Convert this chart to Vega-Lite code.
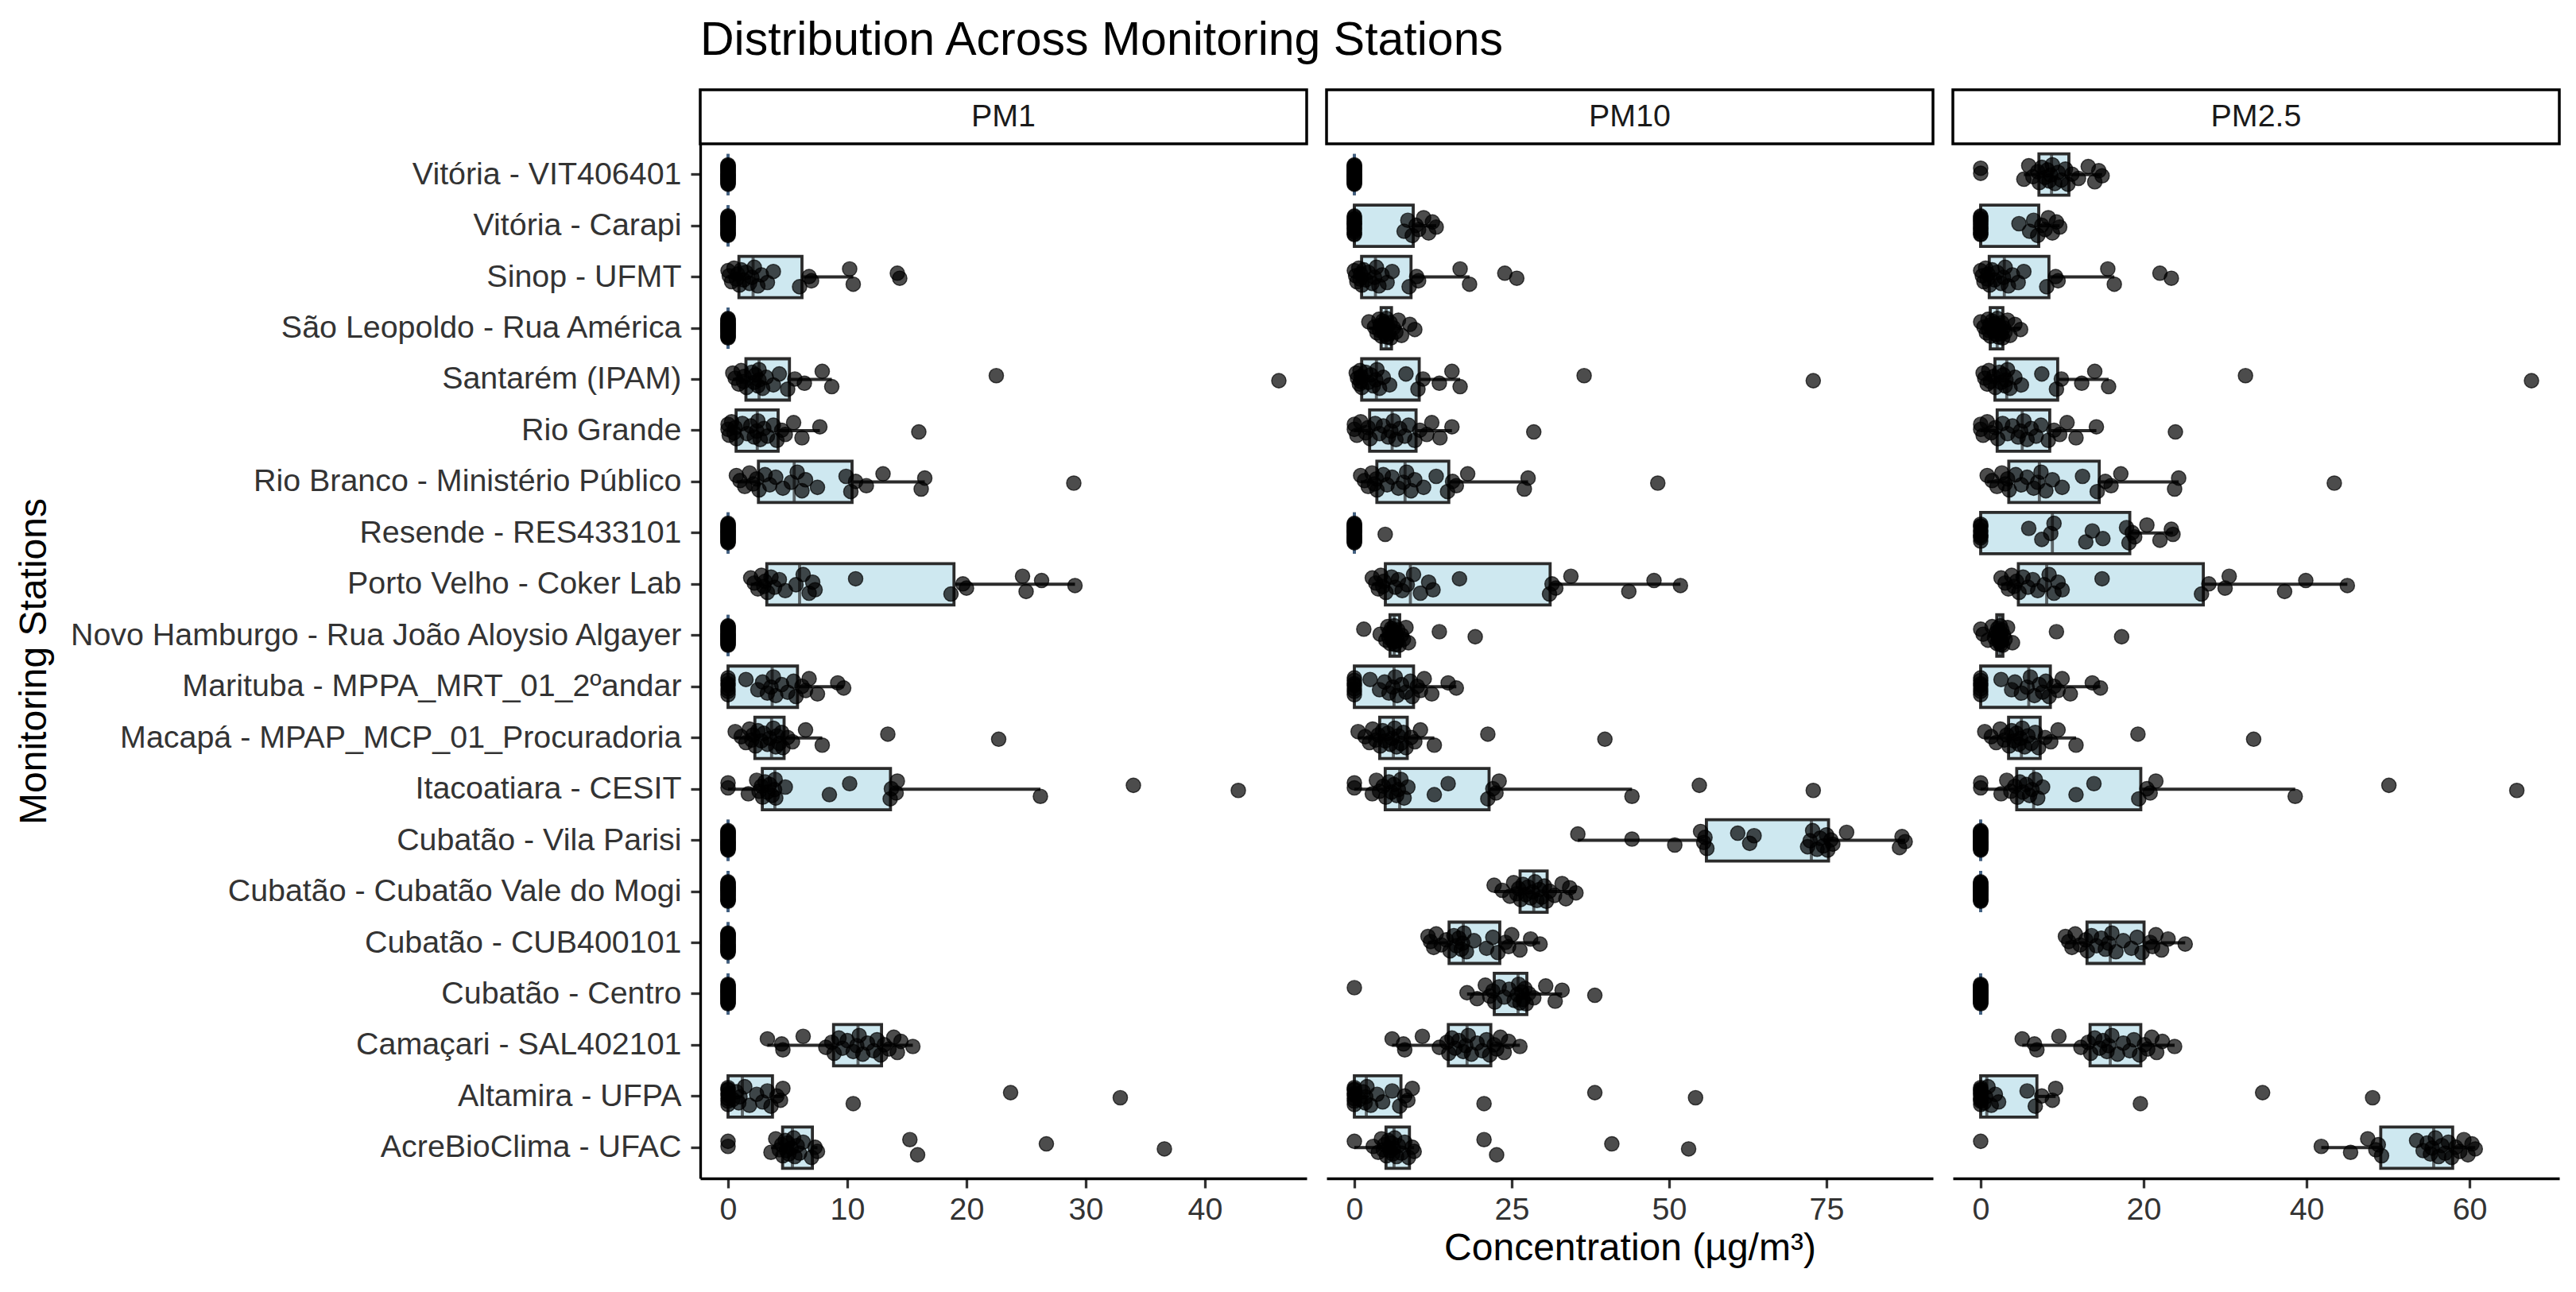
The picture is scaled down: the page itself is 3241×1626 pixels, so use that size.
{
  "$schema": "https://vega.github.io/schema/vega-lite/v6.json",
  "background": "white",
  "padding": {"left": 19, "top": 22, "right": 20, "bottom": 10},
  "title": {"text": "Distribution Across Monitoring Stations", "anchor": "start", "frame": "group", "fontSize": 59, "fontWeight": "normal", "font": "Liberation Sans", "color": "black", "baseline": "alphabetic", "offset": -17},
  "config": {
    "font": "Liberation Sans",
    "view": {"stroke": null},
    "boxplot": {"rule": {"stroke": "#2b2b2b", "strokeWidth": 4}},
    "axis": {"grid": false, "domainColor": "black", "domainWidth": 3.3, "tickColor": "#333333", "tickWidth": 3.3, "tickSize": 12, "labelFont": "Liberation Sans", "labelFontSize": 39.4, "labelColor": "#333333", "labelFlush": false, "labelLimit": 2000, "titleFont": "Liberation Sans", "titleFontSize": 48, "titleFontWeight": "normal", "titleColor": "black", "maxExtent": 1000},
    "axisX": {"labelPadding": 8, "titlePadding": 6},
    "axisY": {"labelPadding": 12, "titlePadding": 17}
  },
  "data": {"values": [
    {"station":"Vitória - VIT406401","obs":1,"PM1":0,"PM10":0,"PM25":0},
    {"station":"Vitória - VIT406401","obs":2,"PM1":0,"PM10":0,"PM25":0},
    {"station":"Vitória - VIT406401","obs":3,"PM1":0,"PM10":0,"PM25":5.3},
    {"station":"Vitória - VIT406401","obs":4,"PM1":0,"PM10":0,"PM25":5.9},
    {"station":"Vitória - VIT406401","obs":5,"PM1":0,"PM10":0,"PM25":6.4},
    {"station":"Vitória - VIT406401","obs":6,"PM1":0,"PM10":0,"PM25":7.0},
    {"station":"Vitória - VIT406401","obs":7,"PM1":0,"PM10":0,"PM25":7.2},
    {"station":"Vitória - VIT406401","obs":8,"PM1":0,"PM10":0,"PM25":7.5},
    {"station":"Vitória - VIT406401","obs":9,"PM1":0,"PM10":0,"PM25":7.9},
    {"station":"Vitória - VIT406401","obs":10,"PM1":0,"PM10":0,"PM25":8.2},
    {"station":"Vitória - VIT406401","obs":11,"PM1":0,"PM10":0,"PM25":8.4},
    {"station":"Vitória - VIT406401","obs":12,"PM1":0,"PM10":0,"PM25":8.6},
    {"station":"Vitória - VIT406401","obs":13,"PM1":0,"PM10":0,"PM25":8.8},
    {"station":"Vitória - VIT406401","obs":14,"PM1":0,"PM10":0,"PM25":9.1},
    {"station":"Vitória - VIT406401","obs":15,"PM1":0,"PM10":0,"PM25":9.5},
    {"station":"Vitória - VIT406401","obs":16,"PM1":0,"PM10":0,"PM25":9.9},
    {"station":"Vitória - VIT406401","obs":17,"PM1":0,"PM10":0,"PM25":10.4},
    {"station":"Vitória - VIT406401","obs":18,"PM1":0,"PM10":0,"PM25":10.7},
    {"station":"Vitória - VIT406401","obs":19,"PM1":0,"PM10":0,"PM25":11.2},
    {"station":"Vitória - VIT406401","obs":20,"PM1":0,"PM10":0,"PM25":12.0},
    {"station":"Vitória - VIT406401","obs":21,"PM1":0,"PM10":0,"PM25":13.2},
    {"station":"Vitória - VIT406401","obs":22,"PM1":0,"PM10":0,"PM25":14.0},
    {"station":"Vitória - VIT406401","obs":23,"PM1":0,"PM10":0,"PM25":14.5},
    {"station":"Vitória - VIT406401","obs":24,"PM1":0,"PM10":0,"PM25":14.9},
    {"station":"Vitória - Carapi","obs":1,"PM1":0,"PM10":0,"PM25":0},
    {"station":"Vitória - Carapi","obs":2,"PM1":0,"PM10":0,"PM25":0},
    {"station":"Vitória - Carapi","obs":3,"PM1":0,"PM10":0,"PM25":0},
    {"station":"Vitória - Carapi","obs":4,"PM1":0,"PM10":0,"PM25":0},
    {"station":"Vitória - Carapi","obs":5,"PM1":0,"PM10":0,"PM25":0},
    {"station":"Vitória - Carapi","obs":6,"PM1":0,"PM10":0,"PM25":0},
    {"station":"Vitória - Carapi","obs":7,"PM1":0,"PM10":0,"PM25":0},
    {"station":"Vitória - Carapi","obs":8,"PM1":0,"PM10":0,"PM25":0},
    {"station":"Vitória - Carapi","obs":9,"PM1":0,"PM10":0,"PM25":0},
    {"station":"Vitória - Carapi","obs":10,"PM1":0,"PM10":0,"PM25":0},
    {"station":"Vitória - Carapi","obs":11,"PM1":0,"PM10":0,"PM25":0},
    {"station":"Vitória - Carapi","obs":12,"PM1":0,"PM10":0,"PM25":0},
    {"station":"Vitória - Carapi","obs":13,"PM1":0,"PM10":0,"PM25":0},
    {"station":"Vitória - Carapi","obs":14,"PM1":0,"PM10":0,"PM25":0},
    {"station":"Vitória - Carapi","obs":15,"PM1":0,"PM10":0,"PM25":4.7},
    {"station":"Vitória - Carapi","obs":16,"PM1":0,"PM10":7.9,"PM25":6.0},
    {"station":"Vitória - Carapi","obs":17,"PM1":0,"PM10":8.5,"PM25":6.5},
    {"station":"Vitória - Carapi","obs":18,"PM1":0,"PM10":9.2,"PM25":7.0},
    {"station":"Vitória - Carapi","obs":19,"PM1":0,"PM10":9.8,"PM25":7.5},
    {"station":"Vitória - Carapi","obs":20,"PM1":0,"PM10":10.2,"PM25":7.9},
    {"station":"Vitória - Carapi","obs":21,"PM1":0,"PM10":11.0,"PM25":8.3},
    {"station":"Vitória - Carapi","obs":22,"PM1":0,"PM10":11.8,"PM25":8.8},
    {"station":"Vitória - Carapi","obs":23,"PM1":0,"PM10":12.4,"PM25":9.3},
    {"station":"Vitória - Carapi","obs":24,"PM1":0,"PM10":13.0,"PM25":9.7},
    {"station":"Sinop - UFMT","obs":1,"PM1":0,"PM10":0,"PM25":0},
    {"station":"Sinop - UFMT","obs":2,"PM1":0.1,"PM10":0.2,"PM25":0.2},
    {"station":"Sinop - UFMT","obs":3,"PM1":0.3,"PM10":0.4,"PM25":0.4},
    {"station":"Sinop - UFMT","obs":4,"PM1":0.5,"PM10":0.7,"PM25":0.6},
    {"station":"Sinop - UFMT","obs":5,"PM1":0.7,"PM10":0.9,"PM25":0.8},
    {"station":"Sinop - UFMT","obs":6,"PM1":0.8,"PM10":1.0,"PM25":0.9},
    {"station":"Sinop - UFMT","obs":7,"PM1":0.95,"PM10":1.2,"PM25":1.1},
    {"station":"Sinop - UFMT","obs":8,"PM1":1.1,"PM10":1.5,"PM25":1.4},
    {"station":"Sinop - UFMT","obs":9,"PM1":1.3,"PM10":1.8,"PM25":1.7},
    {"station":"Sinop - UFMT","obs":10,"PM1":1.5,"PM10":2.2,"PM25":2.0},
    {"station":"Sinop - UFMT","obs":11,"PM1":1.8,"PM10":2.8,"PM25":2.5},
    {"station":"Sinop - UFMT","obs":12,"PM1":2.0,"PM10":3.2,"PM25":2.8},
    {"station":"Sinop - UFMT","obs":13,"PM1":2.2,"PM10":3.5,"PM25":3.0},
    {"station":"Sinop - UFMT","obs":14,"PM1":2.5,"PM10":3.9,"PM25":3.4},
    {"station":"Sinop - UFMT","obs":15,"PM1":2.8,"PM10":4.4,"PM25":3.9},
    {"station":"Sinop - UFMT","obs":16,"PM1":3.3,"PM10":5.2,"PM25":4.6},
    {"station":"Sinop - UFMT","obs":17,"PM1":3.8,"PM10":6.0,"PM25":5.3},
    {"station":"Sinop - UFMT","obs":18,"PM1":6.0,"PM10":8.7,"PM25":8.1},
    {"station":"Sinop - UFMT","obs":19,"PM1":6.8,"PM10":9.9,"PM25":9.2},
    {"station":"Sinop - UFMT","obs":20,"PM1":7.0,"PM10":10.2,"PM25":9.5},
    {"station":"Sinop - UFMT","obs":21,"PM1":10.2,"PM10":16.8,"PM25":15.6},
    {"station":"Sinop - UFMT","obs":22,"PM1":10.5,"PM10":18.3,"PM25":16.4},
    {"station":"Sinop - UFMT","obs":23,"PM1":14.2,"PM10":23.9,"PM25":22.0},
    {"station":"Sinop - UFMT","obs":24,"PM1":14.4,"PM10":25.8,"PM25":23.4},
    {"station":"São Leopoldo - Rua América","obs":1,"PM1":0,"PM10":2.3,"PM25":0},
    {"station":"São Leopoldo - Rua América","obs":2,"PM1":0,"PM10":3.2,"PM25":0.4},
    {"station":"São Leopoldo - Rua América","obs":3,"PM1":0,"PM10":3.6,"PM25":0.7},
    {"station":"São Leopoldo - Rua América","obs":4,"PM1":0,"PM10":3.9,"PM25":0.9},
    {"station":"São Leopoldo - Rua América","obs":5,"PM1":0,"PM10":4.0,"PM25":1.0},
    {"station":"São Leopoldo - Rua América","obs":6,"PM1":0,"PM10":4.1,"PM25":1.1},
    {"station":"São Leopoldo - Rua América","obs":7,"PM1":0,"PM10":4.3,"PM25":1.2},
    {"station":"São Leopoldo - Rua América","obs":8,"PM1":0,"PM10":4.5,"PM25":1.4},
    {"station":"São Leopoldo - Rua América","obs":9,"PM1":0,"PM10":4.6,"PM25":1.6},
    {"station":"São Leopoldo - Rua América","obs":10,"PM1":0,"PM10":4.8,"PM25":1.8},
    {"station":"São Leopoldo - Rua América","obs":11,"PM1":0,"PM10":4.9,"PM25":1.9},
    {"station":"São Leopoldo - Rua América","obs":12,"PM1":0,"PM10":5.0,"PM25":2.0},
    {"station":"São Leopoldo - Rua América","obs":13,"PM1":0,"PM10":5.1,"PM25":2.05},
    {"station":"São Leopoldo - Rua América","obs":14,"PM1":0,"PM10":5.2,"PM25":2.2},
    {"station":"São Leopoldo - Rua América","obs":15,"PM1":0,"PM10":5.3,"PM25":2.3},
    {"station":"São Leopoldo - Rua América","obs":16,"PM1":0,"PM10":5.5,"PM25":2.5},
    {"station":"São Leopoldo - Rua América","obs":17,"PM1":0,"PM10":5.7,"PM25":2.6},
    {"station":"São Leopoldo - Rua América","obs":18,"PM1":0,"PM10":5.8,"PM25":2.7},
    {"station":"São Leopoldo - Rua América","obs":19,"PM1":0,"PM10":6.2,"PM25":2.8},
    {"station":"São Leopoldo - Rua América","obs":20,"PM1":0,"PM10":6.6,"PM25":3.0},
    {"station":"São Leopoldo - Rua América","obs":21,"PM1":0,"PM10":7.0,"PM25":3.3},
    {"station":"São Leopoldo - Rua América","obs":22,"PM1":0,"PM10":7.5,"PM25":3.6},
    {"station":"São Leopoldo - Rua América","obs":23,"PM1":0,"PM10":8.8,"PM25":4.2},
    {"station":"São Leopoldo - Rua América","obs":24,"PM1":0,"PM10":9.6,"PM25":4.9},
    {"station":"Santarém (IPAM)","obs":1,"PM1":0.4,"PM10":0.3,"PM25":0.3},
    {"station":"Santarém (IPAM)","obs":2,"PM1":0.6,"PM10":0.5,"PM25":0.5},
    {"station":"Santarém (IPAM)","obs":3,"PM1":0.9,"PM10":0.8,"PM25":0.8},
    {"station":"Santarém (IPAM)","obs":4,"PM1":1.1,"PM10":0.9,"PM25":1.0},
    {"station":"Santarém (IPAM)","obs":5,"PM1":1.3,"PM10":1.0,"PM25":1.2},
    {"station":"Santarém (IPAM)","obs":6,"PM1":1.35,"PM10":1.05,"PM25":1.6},
    {"station":"Santarém (IPAM)","obs":7,"PM1":1.55,"PM10":1.2,"PM25":1.8},
    {"station":"Santarém (IPAM)","obs":8,"PM1":2.0,"PM10":1.8,"PM25":2.3},
    {"station":"Santarém (IPAM)","obs":9,"PM1":2.2,"PM10":2.2,"PM25":2.5},
    {"station":"Santarém (IPAM)","obs":10,"PM1":2.3,"PM10":2.6,"PM25":2.8},
    {"station":"Santarém (IPAM)","obs":11,"PM1":2.5,"PM10":3.0,"PM25":3.0},
    {"station":"Santarém (IPAM)","obs":12,"PM1":2.6,"PM10":3.4,"PM25":3.1},
    {"station":"Santarém (IPAM)","obs":13,"PM1":2.6,"PM10":3.6,"PM25":3.3},
    {"station":"Santarém (IPAM)","obs":14,"PM1":2.9,"PM10":4.0,"PM25":3.6},
    {"station":"Santarém (IPAM)","obs":15,"PM1":3.2,"PM10":4.6,"PM25":4.2},
    {"station":"Santarém (IPAM)","obs":16,"PM1":3.8,"PM10":5.6,"PM25":5.0},
    {"station":"Santarém (IPAM)","obs":17,"PM1":4.3,"PM10":8.2,"PM25":7.5},
    {"station":"Santarém (IPAM)","obs":18,"PM1":5.0,"PM10":10.1,"PM25":9.3},
    {"station":"Santarém (IPAM)","obs":19,"PM1":5.6,"PM10":10.9,"PM25":9.9},
    {"station":"Santarém (IPAM)","obs":20,"PM1":6.4,"PM10":13.5,"PM25":12.4},
    {"station":"Santarém (IPAM)","obs":21,"PM1":7.9,"PM10":15.5,"PM25":14.0},
    {"station":"Santarém (IPAM)","obs":22,"PM1":8.7,"PM10":16.8,"PM25":15.7},
    {"station":"Santarém (IPAM)","obs":23,"PM1":22.5,"PM10":36.5,"PM25":32.5},
    {"station":"Santarém (IPAM)","obs":24,"PM1":46.2,"PM10":72.9,"PM25":67.6},
    {"station":"Rio Grande","obs":1,"PM1":0,"PM10":0,"PM25":0},
    {"station":"Rio Grande","obs":2,"PM1":0,"PM10":0,"PM25":0},
    {"station":"Rio Grande","obs":3,"PM1":0.1,"PM10":0.4,"PM25":0.3},
    {"station":"Rio Grande","obs":4,"PM1":0.3,"PM10":1.0,"PM25":0.8},
    {"station":"Rio Grande","obs":5,"PM1":0.5,"PM10":1.8,"PM25":1.3},
    {"station":"Rio Grande","obs":6,"PM1":0.6,"PM10":2.2,"PM25":1.8},
    {"station":"Rio Grande","obs":7,"PM1":0.7,"PM10":2.5,"PM25":2.1},
    {"station":"Rio Grande","obs":8,"PM1":1.2,"PM10":3.3,"PM25":2.7},
    {"station":"Rio Grande","obs":9,"PM1":1.6,"PM10":4.0,"PM25":3.3},
    {"station":"Rio Grande","obs":10,"PM1":1.9,"PM10":4.6,"PM25":3.9},
    {"station":"Rio Grande","obs":11,"PM1":2.2,"PM10":5.4,"PM25":4.6},
    {"station":"Rio Grande","obs":12,"PM1":2.4,"PM10":5.8,"PM25":4.9},
    {"station":"Rio Grande","obs":13,"PM1":2.5,"PM10":6.2,"PM25":5.3},
    {"station":"Rio Grande","obs":14,"PM1":2.7,"PM10":6.6,"PM25":5.7},
    {"station":"Rio Grande","obs":15,"PM1":3.0,"PM10":7.2,"PM25":6.2},
    {"station":"Rio Grande","obs":16,"PM1":3.3,"PM10":8.0,"PM25":6.8},
    {"station":"Rio Grande","obs":17,"PM1":3.8,"PM10":8.6,"PM25":7.4},
    {"station":"Rio Grande","obs":18,"PM1":4.1,"PM10":9.6,"PM25":8.3},
    {"station":"Rio Grande","obs":19,"PM1":4.5,"PM10":10.4,"PM25":9.0},
    {"station":"Rio Grande","obs":20,"PM1":4.8,"PM10":11.5,"PM25":9.7},
    {"station":"Rio Grande","obs":21,"PM1":5.5,"PM10":12.3,"PM25":10.6},
    {"station":"Rio Grande","obs":22,"PM1":6.2,"PM10":13.6,"PM25":11.7},
    {"station":"Rio Grande","obs":23,"PM1":7.7,"PM10":15.5,"PM25":14.2},
    {"station":"Rio Grande","obs":24,"PM1":16.0,"PM10":28.5,"PM25":23.9},
    {"station":"Rio Branco - Ministério Público","obs":1,"PM1":0.7,"PM10":1.0,"PM25":0.8},
    {"station":"Rio Branco - Ministério Público","obs":2,"PM1":1.0,"PM10":1.6,"PM25":1.4},
    {"station":"Rio Branco - Ministério Público","obs":3,"PM1":1.4,"PM10":2.2,"PM25":2.0},
    {"station":"Rio Branco - Ministério Público","obs":4,"PM1":1.8,"PM10":2.8,"PM25":2.6},
    {"station":"Rio Branco - Ministério Público","obs":5,"PM1":2.1,"PM10":3.2,"PM25":3.0},
    {"station":"Rio Branco - Ministério Público","obs":6,"PM1":2.4,"PM10":3.5,"PM25":3.3},
    {"station":"Rio Branco - Ministério Público","obs":7,"PM1":2.6,"PM10":3.6,"PM25":3.5},
    {"station":"Rio Branco - Ministério Público","obs":8,"PM1":3.1,"PM10":4.6,"PM25":4.3},
    {"station":"Rio Branco - Ministério Público","obs":9,"PM1":3.5,"PM10":5.2,"PM25":5.0},
    {"station":"Rio Branco - Ministério Público","obs":10,"PM1":4.0,"PM10":6.0,"PM25":5.7},
    {"station":"Rio Branco - Ministério Público","obs":11,"PM1":4.6,"PM10":7.0,"PM25":6.5},
    {"station":"Rio Branco - Ministério Público","obs":12,"PM1":5.3,"PM10":7.8,"PM25":7.0},
    {"station":"Rio Branco - Ministério Público","obs":13,"PM1":5.8,"PM10":8.3,"PM25":7.4},
    {"station":"Rio Branco - Ministério Público","obs":14,"PM1":6.2,"PM10":9.0,"PM25":8.0},
    {"station":"Rio Branco - Ministério Público","obs":15,"PM1":6.5,"PM10":9.6,"PM25":8.8},
    {"station":"Rio Branco - Ministério Público","obs":16,"PM1":7.5,"PM10":11.0,"PM25":10.0},
    {"station":"Rio Branco - Ministério Público","obs":17,"PM1":9.9,"PM10":13.0,"PM25":12.5},
    {"station":"Rio Branco - Ministério Público","obs":18,"PM1":10.3,"PM10":14.8,"PM25":14.3},
    {"station":"Rio Branco - Ministério Público","obs":19,"PM1":10.7,"PM10":15.6,"PM25":15.3},
    {"station":"Rio Branco - Ministério Público","obs":20,"PM1":11.6,"PM10":16.2,"PM25":16.0},
    {"station":"Rio Branco - Ministério Público","obs":21,"PM1":13.0,"PM10":18.0,"PM25":17.2},
    {"station":"Rio Branco - Ministério Público","obs":22,"PM1":16.2,"PM10":27.0,"PM25":23.8},
    {"station":"Rio Branco - Ministério Público","obs":23,"PM1":16.5,"PM10":27.6,"PM25":24.3},
    {"station":"Rio Branco - Ministério Público","obs":24,"PM1":29.0,"PM10":48.2,"PM25":43.4},
    {"station":"Resende - RES433101","obs":1,"PM1":0,"PM10":0,"PM25":0},
    {"station":"Resende - RES433101","obs":2,"PM1":0,"PM10":0,"PM25":0},
    {"station":"Resende - RES433101","obs":3,"PM1":0,"PM10":0,"PM25":0},
    {"station":"Resende - RES433101","obs":4,"PM1":0,"PM10":0,"PM25":0},
    {"station":"Resende - RES433101","obs":5,"PM1":0,"PM10":0,"PM25":0},
    {"station":"Resende - RES433101","obs":6,"PM1":0,"PM10":0,"PM25":0},
    {"station":"Resende - RES433101","obs":7,"PM1":0,"PM10":0,"PM25":0},
    {"station":"Resende - RES433101","obs":8,"PM1":0,"PM10":0,"PM25":0},
    {"station":"Resende - RES433101","obs":9,"PM1":0,"PM10":0,"PM25":0},
    {"station":"Resende - RES433101","obs":10,"PM1":0,"PM10":0,"PM25":5.9},
    {"station":"Resende - RES433101","obs":11,"PM1":0,"PM10":0,"PM25":7.5},
    {"station":"Resende - RES433101","obs":12,"PM1":0,"PM10":0,"PM25":8.6},
    {"station":"Resende - RES433101","obs":13,"PM1":0,"PM10":0,"PM25":9.0},
    {"station":"Resende - RES433101","obs":14,"PM1":0,"PM10":0,"PM25":12.9},
    {"station":"Resende - RES433101","obs":15,"PM1":0,"PM10":0,"PM25":13.7},
    {"station":"Resende - RES433101","obs":16,"PM1":0,"PM10":0,"PM25":15.0},
    {"station":"Resende - RES433101","obs":17,"PM1":0,"PM10":0,"PM25":17.9},
    {"station":"Resende - RES433101","obs":18,"PM1":0,"PM10":0,"PM25":18.2},
    {"station":"Resende - RES433101","obs":19,"PM1":0,"PM10":0,"PM25":18.6},
    {"station":"Resende - RES433101","obs":20,"PM1":0,"PM10":0,"PM25":18.9},
    {"station":"Resende - RES433101","obs":21,"PM1":0,"PM10":0,"PM25":20.4},
    {"station":"Resende - RES433101","obs":22,"PM1":0,"PM10":0,"PM25":22.0},
    {"station":"Resende - RES433101","obs":23,"PM1":0,"PM10":0,"PM25":23.4},
    {"station":"Resende - RES433101","obs":24,"PM1":0,"PM10":4.9,"PM25":23.6},
    {"station":"Porto Velho - Coker Lab","obs":1,"PM1":1.9,"PM10":2.85,"PM25":2.5},
    {"station":"Porto Velho - Coker Lab","obs":2,"PM1":2.2,"PM10":3.4,"PM25":3.0},
    {"station":"Porto Velho - Coker Lab","obs":3,"PM1":2.5,"PM10":3.8,"PM25":3.4},
    {"station":"Porto Velho - Coker Lab","obs":4,"PM1":2.8,"PM10":4.2,"PM25":3.8},
    {"station":"Porto Velho - Coker Lab","obs":5,"PM1":3.0,"PM10":4.5,"PM25":4.1},
    {"station":"Porto Velho - Coker Lab","obs":6,"PM1":3.1,"PM10":4.7,"PM25":4.4},
    {"station":"Porto Velho - Coker Lab","obs":7,"PM1":3.3,"PM10":5.0,"PM25":4.7},
    {"station":"Porto Velho - Coker Lab","obs":8,"PM1":3.6,"PM10":5.9,"PM25":5.2},
    {"station":"Porto Velho - Coker Lab","obs":9,"PM1":3.9,"PM10":6.5,"PM25":5.8},
    {"station":"Porto Velho - Coker Lab","obs":10,"PM1":4.3,"PM10":7.0,"PM25":6.4},
    {"station":"Porto Velho - Coker Lab","obs":11,"PM1":4.8,"PM10":7.6,"PM25":7.0},
    {"station":"Porto Velho - Coker Lab","obs":12,"PM1":5.7,"PM10":8.4,"PM25":7.8},
    {"station":"Porto Velho - Coker Lab","obs":13,"PM1":6.3,"PM10":9.4,"PM25":8.4},
    {"station":"Porto Velho - Coker Lab","obs":14,"PM1":6.8,"PM10":10.5,"PM25":9.0},
    {"station":"Porto Velho - Coker Lab","obs":15,"PM1":7.1,"PM10":11.8,"PM25":9.5},
    {"station":"Porto Velho - Coker Lab","obs":16,"PM1":7.3,"PM10":12.5,"PM25":10.0},
    {"station":"Porto Velho - Coker Lab","obs":17,"PM1":10.7,"PM10":16.7,"PM25":14.9},
    {"station":"Porto Velho - Coker Lab","obs":18,"PM1":18.7,"PM10":31.0,"PM25":27.1},
    {"station":"Porto Velho - Coker Lab","obs":19,"PM1":19.7,"PM10":31.4,"PM25":28.0},
    {"station":"Porto Velho - Coker Lab","obs":20,"PM1":20.0,"PM10":32.0,"PM25":30.0},
    {"station":"Porto Velho - Coker Lab","obs":21,"PM1":24.7,"PM10":34.4,"PM25":30.5},
    {"station":"Porto Velho - Coker Lab","obs":22,"PM1":25.0,"PM10":43.6,"PM25":37.3},
    {"station":"Porto Velho - Coker Lab","obs":23,"PM1":26.3,"PM10":47.6,"PM25":39.9},
    {"station":"Porto Velho - Coker Lab","obs":24,"PM1":29.1,"PM10":51.8,"PM25":45.0},
    {"station":"Novo Hamburgo - Rua João Aloysio Algayer","obs":1,"PM1":0,"PM10":1.5,"PM25":0},
    {"station":"Novo Hamburgo - Rua João Aloysio Algayer","obs":2,"PM1":0,"PM10":4.1,"PM25":0.3},
    {"station":"Novo Hamburgo - Rua João Aloysio Algayer","obs":3,"PM1":0,"PM10":5.0,"PM25":0.9},
    {"station":"Novo Hamburgo - Rua João Aloysio Algayer","obs":4,"PM1":0,"PM10":5.3,"PM25":1.4},
    {"station":"Novo Hamburgo - Rua João Aloysio Algayer","obs":5,"PM1":0,"PM10":5.5,"PM25":1.7},
    {"station":"Novo Hamburgo - Rua João Aloysio Algayer","obs":6,"PM1":0,"PM10":5.55,"PM25":1.9},
    {"station":"Novo Hamburgo - Rua João Aloysio Algayer","obs":7,"PM1":0,"PM10":5.7,"PM25":2.0},
    {"station":"Novo Hamburgo - Rua João Aloysio Algayer","obs":8,"PM1":0,"PM10":5.9,"PM25":2.1},
    {"station":"Novo Hamburgo - Rua João Aloysio Algayer","obs":9,"PM1":0,"PM10":6.0,"PM25":2.2},
    {"station":"Novo Hamburgo - Rua João Aloysio Algayer","obs":10,"PM1":0,"PM10":6.1,"PM25":2.25},
    {"station":"Novo Hamburgo - Rua João Aloysio Algayer","obs":11,"PM1":0,"PM10":6.2,"PM25":2.3},
    {"station":"Novo Hamburgo - Rua João Aloysio Algayer","obs":12,"PM1":0,"PM10":6.3,"PM25":2.35},
    {"station":"Novo Hamburgo - Rua João Aloysio Algayer","obs":13,"PM1":0,"PM10":6.35,"PM25":2.4},
    {"station":"Novo Hamburgo - Rua João Aloysio Algayer","obs":14,"PM1":0,"PM10":6.45,"PM25":2.45},
    {"station":"Novo Hamburgo - Rua João Aloysio Algayer","obs":15,"PM1":0,"PM10":6.6,"PM25":2.5},
    {"station":"Novo Hamburgo - Rua João Aloysio Algayer","obs":16,"PM1":0,"PM10":6.8,"PM25":2.55},
    {"station":"Novo Hamburgo - Rua João Aloysio Algayer","obs":17,"PM1":0,"PM10":6.9,"PM25":2.6},
    {"station":"Novo Hamburgo - Rua João Aloysio Algayer","obs":18,"PM1":0,"PM10":7.1,"PM25":2.7},
    {"station":"Novo Hamburgo - Rua João Aloysio Algayer","obs":19,"PM1":0,"PM10":7.5,"PM25":2.8},
    {"station":"Novo Hamburgo - Rua João Aloysio Algayer","obs":20,"PM1":0,"PM10":7.8,"PM25":3.0},
    {"station":"Novo Hamburgo - Rua João Aloysio Algayer","obs":21,"PM1":0,"PM10":8.2,"PM25":3.3},
    {"station":"Novo Hamburgo - Rua João Aloysio Algayer","obs":22,"PM1":0,"PM10":8.6,"PM25":3.9},
    {"station":"Novo Hamburgo - Rua João Aloysio Algayer","obs":23,"PM1":0,"PM10":13.5,"PM25":9.3},
    {"station":"Novo Hamburgo - Rua João Aloysio Algayer","obs":24,"PM1":0,"PM10":19.2,"PM25":17.3},
    {"station":"Marituba - MPPA_MRT_01_2ºandar","obs":1,"PM1":0,"PM10":0,"PM25":0},
    {"station":"Marituba - MPPA_MRT_01_2ºandar","obs":2,"PM1":0,"PM10":0,"PM25":0},
    {"station":"Marituba - MPPA_MRT_01_2ºandar","obs":3,"PM1":0,"PM10":0,"PM25":0},
    {"station":"Marituba - MPPA_MRT_01_2ºandar","obs":4,"PM1":0,"PM10":0,"PM25":0},
    {"station":"Marituba - MPPA_MRT_01_2ºandar","obs":5,"PM1":0,"PM10":0,"PM25":0},
    {"station":"Marituba - MPPA_MRT_01_2ºandar","obs":6,"PM1":0,"PM10":0,"PM25":0},
    {"station":"Marituba - MPPA_MRT_01_2ºandar","obs":7,"PM1":0,"PM10":0,"PM25":0},
    {"station":"Marituba - MPPA_MRT_01_2ºandar","obs":8,"PM1":1.5,"PM10":2.5,"PM25":2.5},
    {"station":"Marituba - MPPA_MRT_01_2ºandar","obs":9,"PM1":2.5,"PM10":4.0,"PM25":3.8},
    {"station":"Marituba - MPPA_MRT_01_2ºandar","obs":10,"PM1":2.9,"PM10":4.8,"PM25":4.2},
    {"station":"Marituba - MPPA_MRT_01_2ºandar","obs":11,"PM1":3.3,"PM10":5.5,"PM25":5.0},
    {"station":"Marituba - MPPA_MRT_01_2ºandar","obs":12,"PM1":3.6,"PM10":6.1,"PM25":5.7},
    {"station":"Marituba - MPPA_MRT_01_2ºandar","obs":13,"PM1":3.8,"PM10":6.5,"PM25":6.1},
    {"station":"Marituba - MPPA_MRT_01_2ºandar","obs":14,"PM1":4.0,"PM10":6.8,"PM25":6.6},
    {"station":"Marituba - MPPA_MRT_01_2ºandar","obs":15,"PM1":4.5,"PM10":7.5,"PM25":7.2},
    {"station":"Marituba - MPPA_MRT_01_2ºandar","obs":16,"PM1":5.0,"PM10":8.2,"PM25":7.6},
    {"station":"Marituba - MPPA_MRT_01_2ºandar","obs":17,"PM1":5.5,"PM10":8.9,"PM25":8.0},
    {"station":"Marituba - MPPA_MRT_01_2ºandar","obs":18,"PM1":5.7,"PM10":9.2,"PM25":8.4},
    {"station":"Marituba - MPPA_MRT_01_2ºandar","obs":19,"PM1":6.2,"PM10":10.0,"PM25":9.0},
    {"station":"Marituba - MPPA_MRT_01_2ºandar","obs":20,"PM1":6.5,"PM10":10.5,"PM25":9.5},
    {"station":"Marituba - MPPA_MRT_01_2ºandar","obs":21,"PM1":6.8,"PM10":11.1,"PM25":10.0},
    {"station":"Marituba - MPPA_MRT_01_2ºandar","obs":22,"PM1":7.5,"PM10":12.3,"PM25":11.0},
    {"station":"Marituba - MPPA_MRT_01_2ºandar","obs":23,"PM1":9.2,"PM10":14.9,"PM25":13.7},
    {"station":"Marituba - MPPA_MRT_01_2ºandar","obs":24,"PM1":9.7,"PM10":16.2,"PM25":14.7},
    {"station":"Macapá - MPAP_MCP_01_Procuradoria","obs":1,"PM1":0.6,"PM10":0.6,"PM25":0.5},
    {"station":"Macapá - MPAP_MCP_01_Procuradoria","obs":2,"PM1":1.1,"PM10":1.7,"PM25":1.3},
    {"station":"Macapá - MPAP_MCP_01_Procuradoria","obs":3,"PM1":1.5,"PM10":2.4,"PM25":1.9},
    {"station":"Macapá - MPAP_MCP_01_Procuradoria","obs":4,"PM1":1.8,"PM10":2.9,"PM25":2.4},
    {"station":"Macapá - MPAP_MCP_01_Procuradoria","obs":5,"PM1":2.0,"PM10":3.4,"PM25":2.9},
    {"station":"Macapá - MPAP_MCP_01_Procuradoria","obs":6,"PM1":2.1,"PM10":3.8,"PM25":3.2},
    {"station":"Macapá - MPAP_MCP_01_Procuradoria","obs":7,"PM1":2.3,"PM10":4.1,"PM25":3.5},
    {"station":"Macapá - MPAP_MCP_01_Procuradoria","obs":8,"PM1":2.5,"PM10":4.5,"PM25":3.8},
    {"station":"Macapá - MPAP_MCP_01_Procuradoria","obs":9,"PM1":2.8,"PM10":4.9,"PM25":4.1},
    {"station":"Macapá - MPAP_MCP_01_Procuradoria","obs":10,"PM1":3.0,"PM10":5.3,"PM25":4.4},
    {"station":"Macapá - MPAP_MCP_01_Procuradoria","obs":11,"PM1":3.3,"PM10":5.7,"PM25":4.7},
    {"station":"Macapá - MPAP_MCP_01_Procuradoria","obs":12,"PM1":3.5,"PM10":6.0,"PM25":4.9},
    {"station":"Macapá - MPAP_MCP_01_Procuradoria","obs":13,"PM1":3.8,"PM10":6.4,"PM25":5.1},
    {"station":"Macapá - MPAP_MCP_01_Procuradoria","obs":14,"PM1":4.0,"PM10":6.7,"PM25":5.4},
    {"station":"Macapá - MPAP_MCP_01_Procuradoria","obs":15,"PM1":4.1,"PM10":7.0,"PM25":5.8},
    {"station":"Macapá - MPAP_MCP_01_Procuradoria","obs":16,"PM1":4.3,"PM10":7.4,"PM25":6.2},
    {"station":"Macapá - MPAP_MCP_01_Procuradoria","obs":17,"PM1":4.5,"PM10":7.8,"PM25":6.7},
    {"station":"Macapá - MPAP_MCP_01_Procuradoria","obs":18,"PM1":4.6,"PM10":8.2,"PM25":7.1},
    {"station":"Macapá - MPAP_MCP_01_Procuradoria","obs":19,"PM1":5.0,"PM10":9.0,"PM25":7.9},
    {"station":"Macapá - MPAP_MCP_01_Procuradoria","obs":20,"PM1":5.4,"PM10":9.6,"PM25":8.6},
    {"station":"Macapá - MPAP_MCP_01_Procuradoria","obs":21,"PM1":6.5,"PM10":10.5,"PM25":9.5},
    {"station":"Macapá - MPAP_MCP_01_Procuradoria","obs":22,"PM1":7.9,"PM10":12.7,"PM25":11.7},
    {"station":"Macapá - MPAP_MCP_01_Procuradoria","obs":23,"PM1":13.4,"PM10":21.2,"PM25":19.3},
    {"station":"Macapá - MPAP_MCP_01_Procuradoria","obs":24,"PM1":22.7,"PM10":39.8,"PM25":33.5},
    {"station":"Itacoatiara - CESIT","obs":1,"PM1":0,"PM10":0,"PM25":0},
    {"station":"Itacoatiara - CESIT","obs":2,"PM1":0,"PM10":0,"PM25":0},
    {"station":"Itacoatiara - CESIT","obs":3,"PM1":1.7,"PM10":2.85,"PM25":2.5},
    {"station":"Itacoatiara - CESIT","obs":4,"PM1":2.4,"PM10":3.5,"PM25":3.2},
    {"station":"Itacoatiara - CESIT","obs":5,"PM1":2.6,"PM10":4.0,"PM25":3.7},
    {"station":"Itacoatiara - CESIT","obs":6,"PM1":2.8,"PM10":4.6,"PM25":4.2},
    {"station":"Itacoatiara - CESIT","obs":7,"PM1":2.9,"PM10":5.0,"PM25":4.5},
    {"station":"Itacoatiara - CESIT","obs":8,"PM1":3.1,"PM10":5.5,"PM25":4.8},
    {"station":"Itacoatiara - CESIT","obs":9,"PM1":3.3,"PM10":5.9,"PM25":5.2},
    {"station":"Itacoatiara - CESIT","obs":10,"PM1":3.5,"PM10":6.3,"PM25":5.6},
    {"station":"Itacoatiara - CESIT","obs":11,"PM1":3.7,"PM10":6.7,"PM25":6.0},
    {"station":"Itacoatiara - CESIT","obs":12,"PM1":3.9,"PM10":7.0,"PM25":6.3},
    {"station":"Itacoatiara - CESIT","obs":13,"PM1":3.95,"PM10":7.4,"PM25":6.7},
    {"station":"Itacoatiara - CESIT","obs":14,"PM1":4.0,"PM10":7.9,"PM25":7.0},
    {"station":"Itacoatiara - CESIT","obs":15,"PM1":4.8,"PM10":8.5,"PM25":7.6},
    {"station":"Itacoatiara - CESIT","obs":16,"PM1":8.5,"PM10":12.7,"PM25":11.7},
    {"station":"Itacoatiara - CESIT","obs":17,"PM1":10.2,"PM10":14.9,"PM25":13.9},
    {"station":"Itacoatiara - CESIT","obs":18,"PM1":13.6,"PM10":21.2,"PM25":19.4},
    {"station":"Itacoatiara - CESIT","obs":19,"PM1":13.7,"PM10":22.0,"PM25":20.4},
    {"station":"Itacoatiara - CESIT","obs":20,"PM1":14.1,"PM10":22.5,"PM25":20.8},
    {"station":"Itacoatiara - CESIT","obs":21,"PM1":14.2,"PM10":23.0,"PM25":21.5},
    {"station":"Itacoatiara - CESIT","obs":22,"PM1":26.2,"PM10":44.1,"PM25":38.6},
    {"station":"Itacoatiara - CESIT","obs":23,"PM1":34.0,"PM10":54.8,"PM25":50.1},
    {"station":"Itacoatiara - CESIT","obs":24,"PM1":42.8,"PM10":72.9,"PM25":65.8},
    {"station":"Cubatão - Vila Parisi","obs":1,"PM1":0,"PM10":35.5,"PM25":0},
    {"station":"Cubatão - Vila Parisi","obs":2,"PM1":0,"PM10":44.1,"PM25":0},
    {"station":"Cubatão - Vila Parisi","obs":3,"PM1":0,"PM10":50.9,"PM25":0},
    {"station":"Cubatão - Vila Parisi","obs":4,"PM1":0,"PM10":55.0,"PM25":0},
    {"station":"Cubatão - Vila Parisi","obs":5,"PM1":0,"PM10":55.5,"PM25":0},
    {"station":"Cubatão - Vila Parisi","obs":6,"PM1":0,"PM10":55.7,"PM25":0},
    {"station":"Cubatão - Vila Parisi","obs":7,"PM1":0,"PM10":56.0,"PM25":0},
    {"station":"Cubatão - Vila Parisi","obs":8,"PM1":0,"PM10":60.9,"PM25":0},
    {"station":"Cubatão - Vila Parisi","obs":9,"PM1":0,"PM10":62.8,"PM25":0},
    {"station":"Cubatão - Vila Parisi","obs":10,"PM1":0,"PM10":63.5,"PM25":0},
    {"station":"Cubatão - Vila Parisi","obs":11,"PM1":0,"PM10":72.0,"PM25":0},
    {"station":"Cubatão - Vila Parisi","obs":12,"PM1":0,"PM10":72.4,"PM25":0},
    {"station":"Cubatão - Vila Parisi","obs":13,"PM1":0,"PM10":72.8,"PM25":0},
    {"station":"Cubatão - Vila Parisi","obs":14,"PM1":0,"PM10":73.5,"PM25":0},
    {"station":"Cubatão - Vila Parisi","obs":15,"PM1":0,"PM10":74.0,"PM25":0},
    {"station":"Cubatão - Vila Parisi","obs":16,"PM1":0,"PM10":74.5,"PM25":0},
    {"station":"Cubatão - Vila Parisi","obs":17,"PM1":0,"PM10":75.0,"PM25":0},
    {"station":"Cubatão - Vila Parisi","obs":18,"PM1":0,"PM10":75.2,"PM25":0},
    {"station":"Cubatão - Vila Parisi","obs":19,"PM1":0,"PM10":75.7,"PM25":0},
    {"station":"Cubatão - Vila Parisi","obs":20,"PM1":0,"PM10":76.0,"PM25":0},
    {"station":"Cubatão - Vila Parisi","obs":21,"PM1":0,"PM10":78.2,"PM25":0},
    {"station":"Cubatão - Vila Parisi","obs":22,"PM1":0,"PM10":86.6,"PM25":0},
    {"station":"Cubatão - Vila Parisi","obs":23,"PM1":0,"PM10":87.0,"PM25":0},
    {"station":"Cubatão - Vila Parisi","obs":24,"PM1":0,"PM10":87.5,"PM25":0},
    {"station":"Cubatão - Cubatão Vale do Mogi","obs":1,"PM1":0,"PM10":22.2,"PM25":0},
    {"station":"Cubatão - Cubatão Vale do Mogi","obs":2,"PM1":0,"PM10":23.5,"PM25":0},
    {"station":"Cubatão - Cubatão Vale do Mogi","obs":3,"PM1":0,"PM10":24.7,"PM25":0},
    {"station":"Cubatão - Cubatão Vale do Mogi","obs":4,"PM1":0,"PM10":25.3,"PM25":0},
    {"station":"Cubatão - Cubatão Vale do Mogi","obs":5,"PM1":0,"PM10":25.8,"PM25":0},
    {"station":"Cubatão - Cubatão Vale do Mogi","obs":6,"PM1":0,"PM10":26.1,"PM25":0},
    {"station":"Cubatão - Cubatão Vale do Mogi","obs":7,"PM1":0,"PM10":26.4,"PM25":0},
    {"station":"Cubatão - Cubatão Vale do Mogi","obs":8,"PM1":0,"PM10":26.8,"PM25":0},
    {"station":"Cubatão - Cubatão Vale do Mogi","obs":9,"PM1":0,"PM10":27.2,"PM25":0},
    {"station":"Cubatão - Cubatão Vale do Mogi","obs":10,"PM1":0,"PM10":27.6,"PM25":0},
    {"station":"Cubatão - Cubatão Vale do Mogi","obs":11,"PM1":0,"PM10":28.0,"PM25":0},
    {"station":"Cubatão - Cubatão Vale do Mogi","obs":12,"PM1":0,"PM10":28.3,"PM25":0},
    {"station":"Cubatão - Cubatão Vale do Mogi","obs":13,"PM1":0,"PM10":28.7,"PM25":0},
    {"station":"Cubatão - Cubatão Vale do Mogi","obs":14,"PM1":0,"PM10":29.0,"PM25":0},
    {"station":"Cubatão - Cubatão Vale do Mogi","obs":15,"PM1":0,"PM10":29.4,"PM25":0},
    {"station":"Cubatão - Cubatão Vale do Mogi","obs":16,"PM1":0,"PM10":29.8,"PM25":0},
    {"station":"Cubatão - Cubatão Vale do Mogi","obs":17,"PM1":0,"PM10":30.2,"PM25":0},
    {"station":"Cubatão - Cubatão Vale do Mogi","obs":18,"PM1":0,"PM10":30.5,"PM25":0},
    {"station":"Cubatão - Cubatão Vale do Mogi","obs":19,"PM1":0,"PM10":31.0,"PM25":0},
    {"station":"Cubatão - Cubatão Vale do Mogi","obs":20,"PM1":0,"PM10":31.8,"PM25":0},
    {"station":"Cubatão - Cubatão Vale do Mogi","obs":21,"PM1":0,"PM10":33.0,"PM25":0},
    {"station":"Cubatão - Cubatão Vale do Mogi","obs":22,"PM1":0,"PM10":33.6,"PM25":0},
    {"station":"Cubatão - Cubatão Vale do Mogi","obs":23,"PM1":0,"PM10":34.2,"PM25":0},
    {"station":"Cubatão - Cubatão Vale do Mogi","obs":24,"PM1":0,"PM10":35.2,"PM25":0},
    {"station":"Cubatão - CUB400101","obs":1,"PM1":0,"PM10":11.7,"PM25":10.4},
    {"station":"Cubatão - CUB400101","obs":2,"PM1":0,"PM10":12.1,"PM25":10.8},
    {"station":"Cubatão - CUB400101","obs":3,"PM1":0,"PM10":12.6,"PM25":11.2},
    {"station":"Cubatão - CUB400101","obs":4,"PM1":0,"PM10":13.0,"PM25":11.6},
    {"station":"Cubatão - CUB400101","obs":5,"PM1":0,"PM10":13.8,"PM25":12.2},
    {"station":"Cubatão - CUB400101","obs":6,"PM1":0,"PM10":14.6,"PM25":12.9},
    {"station":"Cubatão - CUB400101","obs":7,"PM1":0,"PM10":15.2,"PM25":13.1},
    {"station":"Cubatão - CUB400101","obs":8,"PM1":0,"PM10":15.8,"PM25":13.6},
    {"station":"Cubatão - CUB400101","obs":9,"PM1":0,"PM10":16.2,"PM25":14.2},
    {"station":"Cubatão - CUB400101","obs":10,"PM1":0,"PM10":16.6,"PM25":14.8},
    {"station":"Cubatão - CUB400101","obs":11,"PM1":0,"PM10":17.0,"PM25":15.3},
    {"station":"Cubatão - CUB400101","obs":12,"PM1":0,"PM10":17.2,"PM25":15.7},
    {"station":"Cubatão - CUB400101","obs":13,"PM1":0,"PM10":17.4,"PM25":16.1},
    {"station":"Cubatão - CUB400101","obs":14,"PM1":0,"PM10":17.8,"PM25":16.6},
    {"station":"Cubatão - CUB400101","obs":15,"PM1":0,"PM10":19.0,"PM25":17.5},
    {"station":"Cubatão - CUB400101","obs":16,"PM1":0,"PM10":21.0,"PM25":18.5},
    {"station":"Cubatão - CUB400101","obs":17,"PM1":0,"PM10":22.0,"PM25":19.2},
    {"station":"Cubatão - CUB400101","obs":18,"PM1":0,"PM10":22.8,"PM25":19.8},
    {"station":"Cubatão - CUB400101","obs":19,"PM1":0,"PM10":24.0,"PM25":20.8},
    {"station":"Cubatão - CUB400101","obs":20,"PM1":0,"PM10":24.5,"PM25":21.1},
    {"station":"Cubatão - CUB400101","obs":21,"PM1":0,"PM10":25.0,"PM25":21.5},
    {"station":"Cubatão - CUB400101","obs":22,"PM1":0,"PM10":26.3,"PM25":22.2},
    {"station":"Cubatão - CUB400101","obs":23,"PM1":0,"PM10":28.0,"PM25":23.0},
    {"station":"Cubatão - CUB400101","obs":24,"PM1":0,"PM10":29.5,"PM25":25.1},
    {"station":"Cubatão - Centro","obs":1,"PM1":0,"PM10":0,"PM25":0},
    {"station":"Cubatão - Centro","obs":2,"PM1":0,"PM10":17.9,"PM25":0},
    {"station":"Cubatão - Centro","obs":3,"PM1":0,"PM10":19.5,"PM25":0},
    {"station":"Cubatão - Centro","obs":4,"PM1":0,"PM10":20.8,"PM25":0},
    {"station":"Cubatão - Centro","obs":5,"PM1":0,"PM10":21.5,"PM25":0},
    {"station":"Cubatão - Centro","obs":6,"PM1":0,"PM10":22.0,"PM25":0},
    {"station":"Cubatão - Centro","obs":7,"PM1":0,"PM10":22.3,"PM25":0},
    {"station":"Cubatão - Centro","obs":8,"PM1":0,"PM10":23.0,"PM25":0},
    {"station":"Cubatão - Centro","obs":9,"PM1":0,"PM10":23.8,"PM25":0},
    {"station":"Cubatão - Centro","obs":10,"PM1":0,"PM10":24.6,"PM25":0},
    {"station":"Cubatão - Centro","obs":11,"PM1":0,"PM10":25.4,"PM25":0},
    {"station":"Cubatão - Centro","obs":12,"PM1":0,"PM10":25.9,"PM25":0},
    {"station":"Cubatão - Centro","obs":13,"PM1":0,"PM10":26.1,"PM25":0},
    {"station":"Cubatão - Centro","obs":14,"PM1":0,"PM10":26.3,"PM25":0},
    {"station":"Cubatão - Centro","obs":15,"PM1":0,"PM10":26.6,"PM25":0},
    {"station":"Cubatão - Centro","obs":16,"PM1":0,"PM10":26.8,"PM25":0},
    {"station":"Cubatão - Centro","obs":17,"PM1":0,"PM10":27.1,"PM25":0},
    {"station":"Cubatão - Centro","obs":18,"PM1":0,"PM10":27.3,"PM25":0},
    {"station":"Cubatão - Centro","obs":19,"PM1":0,"PM10":27.7,"PM25":0},
    {"station":"Cubatão - Centro","obs":20,"PM1":0,"PM10":28.5,"PM25":0},
    {"station":"Cubatão - Centro","obs":21,"PM1":0,"PM10":30.4,"PM25":0},
    {"station":"Cubatão - Centro","obs":22,"PM1":0,"PM10":31.9,"PM25":0},
    {"station":"Cubatão - Centro","obs":23,"PM1":0,"PM10":33.0,"PM25":0},
    {"station":"Cubatão - Centro","obs":24,"PM1":0,"PM10":38.2,"PM25":0},
    {"station":"Camaçari - SAL402101","obs":1,"PM1":3.3,"PM10":6.0,"PM25":5.1},
    {"station":"Camaçari - SAL402101","obs":2,"PM1":4.5,"PM10":7.8,"PM25":6.6},
    {"station":"Camaçari - SAL402101","obs":3,"PM1":4.6,"PM10":8.0,"PM25":6.9},
    {"station":"Camaçari - SAL402101","obs":4,"PM1":6.3,"PM10":10.8,"PM25":9.6},
    {"station":"Camaçari - SAL402101","obs":5,"PM1":8.2,"PM10":13.5,"PM25":12.3},
    {"station":"Camaçari - SAL402101","obs":6,"PM1":8.7,"PM10":14.7,"PM25":13.2},
    {"station":"Camaçari - SAL402101","obs":7,"PM1":8.9,"PM10":15.0,"PM25":13.5},
    {"station":"Camaçari - SAL402101","obs":8,"PM1":9.3,"PM10":15.5,"PM25":14.0},
    {"station":"Camaçari - SAL402101","obs":9,"PM1":9.6,"PM10":16.0,"PM25":14.6},
    {"station":"Camaçari - SAL402101","obs":10,"PM1":10.0,"PM10":16.6,"PM25":15.0},
    {"station":"Camaçari - SAL402101","obs":11,"PM1":10.5,"PM10":17.3,"PM25":15.5},
    {"station":"Camaçari - SAL402101","obs":12,"PM1":10.8,"PM10":17.7,"PM25":15.7},
    {"station":"Camaçari - SAL402101","obs":13,"PM1":11.0,"PM10":18.1,"PM25":16.1},
    {"station":"Camaçari - SAL402101","obs":14,"PM1":11.3,"PM10":18.6,"PM25":16.8},
    {"station":"Camaçari - SAL402101","obs":15,"PM1":11.7,"PM10":19.5,"PM25":17.5},
    {"station":"Camaçari - SAL402101","obs":16,"PM1":12.2,"PM10":20.3,"PM25":18.3},
    {"station":"Camaçari - SAL402101","obs":17,"PM1":12.5,"PM10":21.0,"PM25":18.8},
    {"station":"Camaçari - SAL402101","obs":18,"PM1":12.8,"PM10":21.5,"PM25":19.5},
    {"station":"Camaçari - SAL402101","obs":19,"PM1":13.1,"PM10":22.2,"PM25":20.1},
    {"station":"Camaçari - SAL402101","obs":20,"PM1":13.5,"PM10":22.6,"PM25":20.5},
    {"station":"Camaçari - SAL402101","obs":21,"PM1":13.9,"PM10":23.2,"PM25":21.0},
    {"station":"Camaçari - SAL402101","obs":22,"PM1":14.2,"PM10":23.8,"PM25":21.6},
    {"station":"Camaçari - SAL402101","obs":23,"PM1":14.5,"PM10":24.5,"PM25":22.3},
    {"station":"Camaçari - SAL402101","obs":24,"PM1":15.5,"PM10":26.3,"PM25":23.8},
    {"station":"Altamira - UFPA","obs":1,"PM1":0,"PM10":0,"PM25":0},
    {"station":"Altamira - UFPA","obs":2,"PM1":0,"PM10":0,"PM25":0},
    {"station":"Altamira - UFPA","obs":3,"PM1":0,"PM10":0,"PM25":0},
    {"station":"Altamira - UFPA","obs":4,"PM1":0,"PM10":0,"PM25":0},
    {"station":"Altamira - UFPA","obs":5,"PM1":0,"PM10":0,"PM25":0},
    {"station":"Altamira - UFPA","obs":6,"PM1":0,"PM10":0,"PM25":0},
    {"station":"Altamira - UFPA","obs":7,"PM1":0,"PM10":0,"PM25":0},
    {"station":"Altamira - UFPA","obs":8,"PM1":0,"PM10":0,"PM25":0},
    {"station":"Altamira - UFPA","obs":9,"PM1":0.4,"PM10":0.8,"PM25":0},
    {"station":"Altamira - UFPA","obs":10,"PM1":0.7,"PM10":1.4,"PM25":0},
    {"station":"Altamira - UFPA","obs":11,"PM1":0.9,"PM10":1.7,"PM25":0.4},
    {"station":"Altamira - UFPA","obs":12,"PM1":1.0,"PM10":1.8,"PM25":0.6},
    {"station":"Altamira - UFPA","obs":13,"PM1":1.4,"PM10":2.0,"PM25":0.9},
    {"station":"Altamira - UFPA","obs":14,"PM1":1.8,"PM10":2.6,"PM25":1.3},
    {"station":"Altamira - UFPA","obs":15,"PM1":2.4,"PM10":3.6,"PM25":1.8},
    {"station":"Altamira - UFPA","obs":16,"PM1":2.9,"PM10":4.5,"PM25":2.2},
    {"station":"Altamira - UFPA","obs":17,"PM1":3.3,"PM10":6.0,"PM25":5.7},
    {"station":"Altamira - UFPA","obs":18,"PM1":3.6,"PM10":7.2,"PM25":6.7},
    {"station":"Altamira - UFPA","obs":19,"PM1":4.1,"PM10":8.0,"PM25":7.5},
    {"station":"Altamira - UFPA","obs":20,"PM1":4.4,"PM10":8.5,"PM25":8.8},
    {"station":"Altamira - UFPA","obs":21,"PM1":4.6,"PM10":9.2,"PM25":9.2},
    {"station":"Altamira - UFPA","obs":22,"PM1":10.5,"PM10":20.6,"PM25":19.6},
    {"station":"Altamira - UFPA","obs":23,"PM1":23.7,"PM10":38.2,"PM25":34.6},
    {"station":"Altamira - UFPA","obs":24,"PM1":32.9,"PM10":54.2,"PM25":48.1},
    {"station":"AcreBioClima - UFAC","obs":1,"PM1":0,"PM10":0,"PM25":0},
    {"station":"AcreBioClima - UFAC","obs":2,"PM1":0,"PM10":3.0,"PM25":41.8},
    {"station":"AcreBioClima - UFAC","obs":3,"PM1":3.6,"PM10":3.8,"PM25":45.4},
    {"station":"AcreBioClima - UFAC","obs":4,"PM1":4.0,"PM10":4.3,"PM25":47.5},
    {"station":"AcreBioClima - UFAC","obs":5,"PM1":4.3,"PM10":4.6,"PM25":48.5},
    {"station":"AcreBioClima - UFAC","obs":6,"PM1":4.5,"PM10":4.8,"PM25":48.8},
    {"station":"AcreBioClima - UFAC","obs":7,"PM1":4.6,"PM10":5.1,"PM25":49.2},
    {"station":"AcreBioClima - UFAC","obs":8,"PM1":4.8,"PM10":5.4,"PM25":53.5},
    {"station":"AcreBioClima - UFAC","obs":9,"PM1":4.9,"PM10":5.7,"PM25":54.3},
    {"station":"AcreBioClima - UFAC","obs":10,"PM1":5.0,"PM10":5.9,"PM25":54.8},
    {"station":"AcreBioClima - UFAC","obs":11,"PM1":5.1,"PM10":6.1,"PM25":55.2},
    {"station":"AcreBioClima - UFAC","obs":12,"PM1":5.3,"PM10":6.2,"PM25":55.4},
    {"station":"AcreBioClima - UFAC","obs":13,"PM1":5.5,"PM10":6.4,"PM25":55.8},
    {"station":"AcreBioClima - UFAC","obs":14,"PM1":5.6,"PM10":6.7,"PM25":56.2},
    {"station":"AcreBioClima - UFAC","obs":15,"PM1":5.8,"PM10":7.0,"PM25":56.6},
    {"station":"AcreBioClima - UFAC","obs":16,"PM1":6.0,"PM10":7.5,"PM25":57.0},
    {"station":"AcreBioClima - UFAC","obs":17,"PM1":6.3,"PM10":8.0,"PM25":57.4},
    {"station":"AcreBioClima - UFAC","obs":18,"PM1":7.0,"PM10":8.6,"PM25":57.8},
    {"station":"AcreBioClima - UFAC","obs":19,"PM1":7.3,"PM10":9.2,"PM25":58.3},
    {"station":"AcreBioClima - UFAC","obs":20,"PM1":7.5,"PM10":9.5,"PM25":58.8},
    {"station":"AcreBioClima - UFAC","obs":21,"PM1":15.25,"PM10":20.6,"PM25":59.3},
    {"station":"AcreBioClima - UFAC","obs":22,"PM1":15.9,"PM10":22.6,"PM25":59.8},
    {"station":"AcreBioClima - UFAC","obs":23,"PM1":26.7,"PM10":40.9,"PM25":60.3},
    {"station":"AcreBioClima - UFAC","obs":24,"PM1":36.6,"PM10":53.1,"PM25":60.7}
  ]},
  "columns": 3,
  "bounds": "flush",
  "spacing": {"row": 0, "column": 25},
  "resolve": {"scale": {"x": "independent", "y": "independent"}},
  "concat": [
    {"width": 763, "height": 68, "data": {"values": [{"pollutant": "PM1"}]}, "view": {"stroke": "black", "strokeWidth": 3.5, "fill": "white"}, "mark": {"type": "text", "fontSize": 39.4, "color": "#1A1A1A", "font": "Liberation Sans"}, "encoding": {"text": {"field": "pollutant", "type": "nominal"}}},
    {"width": 763, "height": 68, "data": {"values": [{"pollutant": "PM10"}]}, "view": {"stroke": "black", "strokeWidth": 3.5, "fill": "white"}, "mark": {"type": "text", "fontSize": 39.4, "color": "#1A1A1A", "font": "Liberation Sans"}, "encoding": {"text": {"field": "pollutant", "type": "nominal"}}},
    {"width": 763, "height": 68, "data": {"values": [{"pollutant": "PM2.5"}]}, "view": {"stroke": "black", "strokeWidth": 3.5, "fill": "white"}, "mark": {"type": "text", "fontSize": 39.4, "color": "#1A1A1A", "font": "Liberation Sans"}, "encoding": {"text": {"field": "pollutant", "type": "nominal"}}},
    {
      "width": 763, "height": 1302,
      "layer": [
        {"mark": {"type": "boxplot", "extent": 1.5, "outliers": false, "size": 52, "box": {"fill": "#ADD8E6", "fillOpacity": 0.6, "stroke": "#2b2b2b", "strokeWidth": 3.8}, "median": {"color": "#2b2b2b", "thickness": 3.8}, "rule": {"stroke": "#2b2b2b", "strokeWidth": 4}},
         "encoding": {
           "x": {"field": "PM1", "type": "quantitative", "scale": {"zero": false, "nice": false, "padding": 35}, "axis": {"values": [0, 10, 20, 30, 40], "title": null}},
           "y": {"field": "station", "type": "nominal", "sort": ["Vitória - VIT406401","Vitória - Carapi","Sinop - UFMT","São Leopoldo - Rua América","Santarém (IPAM)","Rio Grande","Rio Branco - Ministério Público","Resende - RES433101","Porto Velho - Coker Lab","Novo Hamburgo - Rua João Aloysio Algayer","Marituba - MPPA_MRT_01_2ºandar","Macapá - MPAP_MCP_01_Procuradoria","Itacoatiara - CESIT","Cubatão - Vila Parisi","Cubatão - Cubatão Vale do Mogi","Cubatão - CUB400101","Cubatão - Centro","Camaçari - SAL402101","Altamira - UFPA","AcreBioClima - UFAC"], "scale": {"paddingInner": 0, "paddingOuter": 0.1}, "axis": {"title": "Monitoring Stations"}}
         }},
        {"mark": {"type": "circle", "size": 330, "fill": "black", "fillOpacity": 0.7, "stroke": "black", "strokeOpacity": 0.7, "strokeWidth": 1.4},
         "encoding": {
           "x": {"field": "PM1", "type": "quantitative"},
           "y": {"field": "station", "type": "nominal", "sort": ["Vitória - VIT406401","Vitória - Carapi","Sinop - UFMT","São Leopoldo - Rua América","Santarém (IPAM)","Rio Grande","Rio Branco - Ministério Público","Resende - RES433101","Porto Velho - Coker Lab","Novo Hamburgo - Rua João Aloysio Algayer","Marituba - MPPA_MRT_01_2ºandar","Macapá - MPAP_MCP_01_Procuradoria","Itacoatiara - CESIT","Cubatão - Vila Parisi","Cubatão - Cubatão Vale do Mogi","Cubatão - CUB400101","Cubatão - Centro","Camaçari - SAL402101","Altamira - UFPA","AcreBioClima - UFAC"]},
           "yOffset": {"field": "obs", "type": "nominal", "scale": {"domain": [13, 4, 21, 8, 1, 17, 10, 23, 6, 15, 2, 19, 12, 24, 5, 9, 20, 3, 16, 11, 22, 7, 14, 18], "range": [20, 44.5], "paddingInner": 0, "paddingOuter": 0}}
         }}
      ]
    },
    {
      "width": 763, "height": 1302,
      "layer": [
        {"mark": {"type": "boxplot", "extent": 1.5, "outliers": false, "size": 52, "box": {"fill": "#ADD8E6", "fillOpacity": 0.6, "stroke": "#2b2b2b", "strokeWidth": 3.8}, "median": {"color": "#2b2b2b", "thickness": 3.8}, "rule": {"stroke": "#2b2b2b", "strokeWidth": 4}},
         "encoding": {
           "x": {"field": "PM10", "type": "quantitative", "scale": {"zero": false, "nice": false, "padding": 35}, "axis": {"values": [0, 25, 50, 75], "title": "Concentration (µg/m³)"}},
           "y": {"field": "station", "type": "nominal", "sort": ["Vitória - VIT406401","Vitória - Carapi","Sinop - UFMT","São Leopoldo - Rua América","Santarém (IPAM)","Rio Grande","Rio Branco - Ministério Público","Resende - RES433101","Porto Velho - Coker Lab","Novo Hamburgo - Rua João Aloysio Algayer","Marituba - MPPA_MRT_01_2ºandar","Macapá - MPAP_MCP_01_Procuradoria","Itacoatiara - CESIT","Cubatão - Vila Parisi","Cubatão - Cubatão Vale do Mogi","Cubatão - CUB400101","Cubatão - Centro","Camaçari - SAL402101","Altamira - UFPA","AcreBioClima - UFAC"], "scale": {"paddingInner": 0, "paddingOuter": 0.1}, "axis": null}
         }},
        {"mark": {"type": "circle", "size": 330, "fill": "black", "fillOpacity": 0.7, "stroke": "black", "strokeOpacity": 0.7, "strokeWidth": 1.4},
         "encoding": {
           "x": {"field": "PM10", "type": "quantitative"},
           "y": {"field": "station", "type": "nominal", "sort": ["Vitória - VIT406401","Vitória - Carapi","Sinop - UFMT","São Leopoldo - Rua América","Santarém (IPAM)","Rio Grande","Rio Branco - Ministério Público","Resende - RES433101","Porto Velho - Coker Lab","Novo Hamburgo - Rua João Aloysio Algayer","Marituba - MPPA_MRT_01_2ºandar","Macapá - MPAP_MCP_01_Procuradoria","Itacoatiara - CESIT","Cubatão - Vila Parisi","Cubatão - Cubatão Vale do Mogi","Cubatão - CUB400101","Cubatão - Centro","Camaçari - SAL402101","Altamira - UFPA","AcreBioClima - UFAC"], "axis": null},
           "yOffset": {"field": "obs", "type": "nominal", "scale": {"domain": [13, 4, 21, 8, 1, 17, 10, 23, 6, 15, 2, 19, 12, 24, 5, 9, 20, 3, 16, 11, 22, 7, 14, 18], "range": [20, 44.5], "paddingInner": 0, "paddingOuter": 0}}
         }}
      ]
    },
    {
      "width": 763, "height": 1302,
      "layer": [
        {"mark": {"type": "boxplot", "extent": 1.5, "outliers": false, "size": 52, "box": {"fill": "#ADD8E6", "fillOpacity": 0.6, "stroke": "#2b2b2b", "strokeWidth": 3.8}, "median": {"color": "#2b2b2b", "thickness": 3.8}, "rule": {"stroke": "#2b2b2b", "strokeWidth": 4}},
         "encoding": {
           "x": {"field": "PM25", "type": "quantitative", "scale": {"zero": false, "nice": false, "padding": 35}, "axis": {"values": [0, 20, 40, 60], "title": null}},
           "y": {"field": "station", "type": "nominal", "sort": ["Vitória - VIT406401","Vitória - Carapi","Sinop - UFMT","São Leopoldo - Rua América","Santarém (IPAM)","Rio Grande","Rio Branco - Ministério Público","Resende - RES433101","Porto Velho - Coker Lab","Novo Hamburgo - Rua João Aloysio Algayer","Marituba - MPPA_MRT_01_2ºandar","Macapá - MPAP_MCP_01_Procuradoria","Itacoatiara - CESIT","Cubatão - Vila Parisi","Cubatão - Cubatão Vale do Mogi","Cubatão - CUB400101","Cubatão - Centro","Camaçari - SAL402101","Altamira - UFPA","AcreBioClima - UFAC"], "scale": {"paddingInner": 0, "paddingOuter": 0.1}, "axis": null}
         }},
        {"mark": {"type": "circle", "size": 330, "fill": "black", "fillOpacity": 0.7, "stroke": "black", "strokeOpacity": 0.7, "strokeWidth": 1.4},
         "encoding": {
           "x": {"field": "PM25", "type": "quantitative"},
           "y": {"field": "station", "type": "nominal", "sort": ["Vitória - VIT406401","Vitória - Carapi","Sinop - UFMT","São Leopoldo - Rua América","Santarém (IPAM)","Rio Grande","Rio Branco - Ministério Público","Resende - RES433101","Porto Velho - Coker Lab","Novo Hamburgo - Rua João Aloysio Algayer","Marituba - MPPA_MRT_01_2ºandar","Macapá - MPAP_MCP_01_Procuradoria","Itacoatiara - CESIT","Cubatão - Vila Parisi","Cubatão - Cubatão Vale do Mogi","Cubatão - CUB400101","Cubatão - Centro","Camaçari - SAL402101","Altamira - UFPA","AcreBioClima - UFAC"], "axis": null},
           "yOffset": {"field": "obs", "type": "nominal", "scale": {"domain": [13, 4, 21, 8, 1, 17, 10, 23, 6, 15, 2, 19, 12, 24, 5, 9, 20, 3, 16, 11, 22, 7, 14, 18], "range": [20, 44.5], "paddingInner": 0, "paddingOuter": 0}}
         }}
      ]
    }
  ]
}
